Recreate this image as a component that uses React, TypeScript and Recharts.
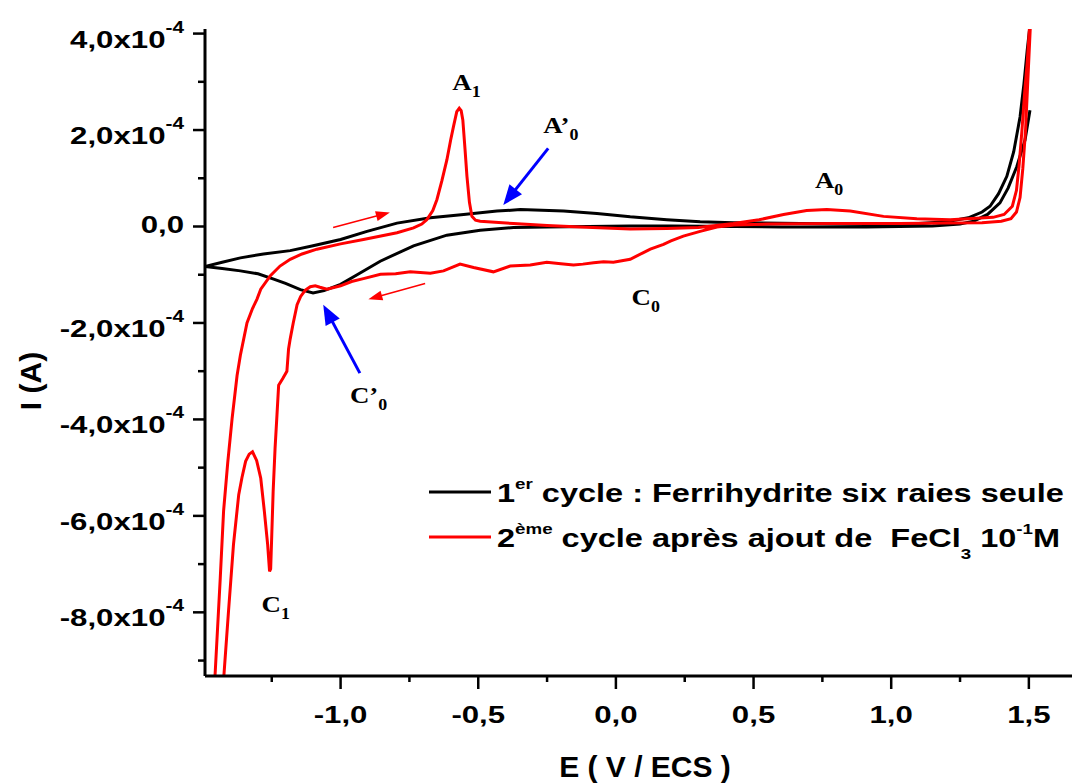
import { LineChart, Line, XAxis, YAxis, Legend, ReferenceLine, ReferenceDot } from 'recharts';

const W = 1072;
const H = 783;

// E in V/ECS, I in units of 1e-4 A

// 1st cycle (black): return branch from +1.5 V down to the left end
const cycle1Back: [number, number][] = [
  [1.504, 2.41], [1.486, 1.79], [1.456, 1.24], [1.425, 0.8], [1.395, 0.49], [1.35, 0.25],
  [1.3, 0.11], [1.25, 0.05], [1.15, 0.01], [0.91, -0.01], [0.6, -0.01], [0.43, 0.0],
  [0.2, 0.01], [0.05, 0.01], [-0.1, 0.0], [-0.25, -0.01], [-0.372, -0.02], [-0.493, -0.08],
  [-0.614, -0.18], [-0.735, -0.4], [-0.856, -0.72], [-0.94, -1.0], [-1.0, -1.2],
  [-1.06, -1.33], [-1.1, -1.38], [-1.146, -1.31], [-1.2, -1.18], [-1.243, -1.09],
  [-1.3, -0.98], [-1.364, -0.92], [-1.43, -0.87], [-1.494, -0.83],
];

// 1st cycle (black): forward branch up to +1.5 V
const cycle1Forward: [number, number][] = [
  [-1.43, -0.74], [-1.364, -0.65], [-1.28, -0.57], [-1.183, -0.5], [-1.1, -0.4],
  [-1.0, -0.27], [-0.904, -0.1], [-0.795, 0.07], [-0.674, 0.18], [-0.553, 0.25],
  [-0.432, 0.32], [-0.347, 0.35], [-0.19, 0.32], [-0.069, 0.27], [0.052, 0.2],
  [0.185, 0.14], [0.306, 0.1], [0.427, 0.08], [0.67, 0.06], [0.91, 0.05], [1.1, 0.06],
  [1.2, 0.1], [1.28, 0.18], [1.33, 0.3], [1.359, 0.42], [1.39, 0.68], [1.42, 1.04],
  [1.445, 1.55], [1.468, 2.27], [1.482, 2.95], [1.494, 3.65], [1.502, 4.06],
];

// 2nd cycle (red): cathodic branch, C0 ripples, C'0, C1, down past the axis
const cycle2Back: [number, number][] = [
  [1.505, 4.1], [1.496, 3.0], [1.488, 2.0], [1.478, 1.2], [1.468, 0.6], [1.455, 0.3],
  [1.435, 0.16], [1.4, 0.11], [1.33, 0.08], [1.2, 0.07], [1.03, 0.06], [0.8, 0.06],
  [0.55, 0.05], [0.43, 0.03], [0.367, -0.01], [0.306, -0.1], [0.245, -0.2], [0.2, -0.3],
  [0.173, -0.37], [0.125, -0.47], [0.1, -0.54], [0.052, -0.68], [-0.009, -0.74],
  [-0.045, -0.73], [-0.081, -0.75], [-0.12, -0.78], [-0.154, -0.8], [-0.2, -0.77],
  [-0.251, -0.74], [-0.311, -0.8], [-0.384, -0.82], [-0.445, -0.94], [-0.517, -0.85],
  [-0.566, -0.78], [-0.626, -0.92], [-0.674, -0.97], [-0.747, -0.94], [-0.8, -0.98],
  [-0.855, -0.99], [-0.917, -1.08], [-0.96, -1.14], [-1.0, -1.23], [-1.049, -1.3],
  [-1.075, -1.26], [-1.092, -1.23], [-1.11, -1.25], [-1.128, -1.32], [-1.145, -1.45],
  [-1.158, -1.62], [-1.172, -2.0], [-1.183, -2.33], [-1.189, -2.54], [-1.195, -3.0],
  [-1.21, -3.15], [-1.225, -3.29], [-1.231, -3.9], [-1.238, -4.6], [-1.245, -5.5],
  [-1.25, -6.4], [-1.254, -7.1], [-1.258, -7.15], [-1.265, -6.59], [-1.277, -5.9],
  [-1.29, -5.22], [-1.305, -4.85], [-1.32, -4.67], [-1.332, -4.72], [-1.345, -4.87],
  [-1.358, -5.2], [-1.37, -5.56], [-1.389, -6.59], [-1.407, -7.97], [-1.423, -9.24],
  [-1.45, -11.5], [-1.49, -14.0],
];

// 2nd cycle (red): anodic branch with A1 and A0
const cycle2Forward: [number, number][] = [
  [-1.478, -11.5], [-1.455, -9.2], [-1.437, -7.28], [-1.425, -5.9], [-1.41, -4.9],
  [-1.394, -3.98], [-1.376, -3.09], [-1.364, -2.67], [-1.34, -2.0], [-1.32, -1.7],
  [-1.304, -1.51], [-1.29, -1.3], [-1.255, -1.02], [-1.22, -0.82], [-1.183, -0.68],
  [-1.14, -0.57], [-1.086, -0.47], [-1.0, -0.36], [-0.917, -0.27], [-0.795, -0.13],
  [-0.735, -0.03], [-0.705, 0.05], [-0.687, 0.14], [-0.665, 0.33], [-0.65, 0.56],
  [-0.632, 0.95], [-0.614, 1.38], [-0.6, 1.8], [-0.59, 2.07], [-0.578, 2.38],
  [-0.569, 2.45], [-0.562, 2.4], [-0.556, 2.21], [-0.548, 1.6], [-0.541, 1.04],
  [-0.532, 0.5], [-0.523, 0.21], [-0.51, 0.13], [-0.493, 0.11], [-0.372, 0.06],
  [-0.25, 0.02], [-0.13, -0.01], [0.052, -0.05], [0.185, -0.04], [0.3, -0.02],
  [0.427, 0.06], [0.52, 0.14], [0.609, 0.25], [0.693, 0.33], [0.766, 0.35], [0.851, 0.32],
  [0.972, 0.21], [1.093, 0.16], [1.214, 0.14], [1.31, 0.17], [1.37, 0.19], [1.41, 0.25],
  [1.44, 0.42], [1.455, 0.75], [1.465, 1.3], [1.475, 2.0], [1.485, 2.8], [1.494, 3.4],
  [1.502, 4.1],
];

const xTicks = [-1.25, -1, -0.75, -0.5, -0.25, 0, 0.25, 0.5, 0.75, 1, 1.25, 1.5];
const yTicks = [-9, -8, -7, -6, -5, -4, -3, -2, -1, 0, 1, 2, 3, 4];

const peakLabels = [
  { name: 'A', sub: '1', e: -0.594, i: 2.82 },
  { name: 'A’', sub: '0', e: -0.264, i: 1.93 },
  { name: 'A', sub: '0', e: 0.723, i: 0.79 },
  { name: 'C', sub: '0', e: 0.057, i: -1.63 },
  { name: 'C’', sub: '0', e: -0.966, i: -3.66 },
  { name: 'C', sub: '1', e: -1.287, i: -7.99 },
];

// [from, to] in (E, I)
const peakArrows: [number, number, number, number][] = [
  [-0.246, 1.62, -0.409, 0.446],
  [-0.93, -3.04, -1.063, -1.62],
];
const scanArrows: [number, number, number, number][] = [
  [-1.027, -0.02, -0.821, 0.29],
  [-0.693, -1.18, -0.899, -1.51],
];

const toPoints = (pts: [number, number][]) => pts.map(([e, i]) => ({ e, i }));
const cycle1 = toPoints([...cycle1Back, ...cycle1Forward]);
const cycle2 = toPoints([...cycle2Back, ...cycle2Forward]);

const SANS = "'Liberation Sans', Arial, sans-serif";
const SERIF = "'Liberation Serif', 'Times New Roman', serif";

type Seg = { t: string; s?: 'sup' | 'sub' };

function rich(segs: Seg[], size: number, small: number, up: number, down: number) {
  let cur = 0;
  return segs.map((sg, k) => {
    const target = sg.s === 'sup' ? -up : sg.s === 'sub' ? down : 0;
    const dy = target - cur;
    cur = target;
    return (
      <tspan key={k} dy={dy} fontSize={sg.s ? small : size}>
        {sg.t}
      </tspan>
    );
  });
}

const fmt = (v: number) => v.toFixed(1).replace('.', ',');

function XTick(props: any) {
  const { x, y, payload } = props;
  const v = payload.value as number;
  const major = Math.abs(v * 2 - Math.round(v * 2)) < 1e-6;
  return (
    <g>
      <line x1={x} x2={x} y1={y} y2={y + (major ? 13 : 6)} stroke="#000" strokeWidth={2.5} />
      {major && (
        <g transform={`translate(${x},${y + 47}) scale(1.3,1)`}>
          <text textAnchor="middle" fontFamily={SANS} fontWeight="bold" fontSize={24} fill="#000">
            {fmt(v)}
          </text>
        </g>
      )}
    </g>
  );
}

function YTick(props: any) {
  const { x, y, payload } = props;
  const v = payload.value as number;
  const major = v % 2 === 0;
  const segs: Seg[] = v === 0 ? [{ t: '0,0' }] : [{ t: `${fmt(v)}x10` }, { t: '-4', s: 'sup' }];
  return (
    <g>
      <line x1={x - (major ? 12 : 7)} x2={x} y1={y} y2={y} stroke="#000" strokeWidth={2.5} />
      {major && (
        <g transform={`translate(${x - 21},${y + (v === 0 ? 6.5 : 14)}) scale(1.3,1)`}>
          <text textAnchor="end" fontFamily={SANS} fontWeight="bold" fontSize={24} fill="#000">
            {rich(segs, 24, 16, 15, 0)}
          </text>
        </g>
      )}
    </g>
  );
}

function arrowShape(head: number, width: number) {
  return (p: any) => {
    const { x1, y1, x2, y2, stroke, strokeWidth } = p;
    const len = Math.hypot(x2 - x1, y2 - y1) || 1;
    const ux = (x2 - x1) / len;
    const uy = (y2 - y1) / len;
    const bx = x2 - ux * head;
    const by = y2 - uy * head;
    const px = (-uy * width) / 2;
    const py = (ux * width) / 2;
    return (
      <g>
        <line x1={x1} y1={y1} x2={bx + ux} y2={by + uy} stroke={stroke} strokeWidth={strokeWidth} />
        <polygon points={`${x2},${y2} ${bx + px},${by + py} ${bx - px},${by - py}`} fill={stroke} />
      </g>
    );
  };
}

const legendLabels: Record<string, Seg[]> = {
  c1: [{ t: '1' }, { t: 'er', s: 'sup' }, { t: ' cycle : Ferrihydrite six raies seule' }],
  c2: [
    { t: '2' }, { t: 'ème', s: 'sup' }, { t: ' cycle après ajout de  FeCl' }, { t: '3', s: 'sub' },
    { t: ' 10' }, { t: '-1', s: 'sup' }, { t: 'M' },
  ],
};

function LegendContent(props: any) {
  const items = (props.payload || []) as any[];
  return (
    <svg width={680} height={95} style={{ display: 'block', overflow: 'visible' }}>
      {items.map((it, k) => {
        const y = 24 + k * 45;
        return (
          <g key={k}>
            <line x1={14} x2={76} y1={y} y2={y} stroke={it.color} strokeWidth={3} />
            <g transform={`translate(82,${y + 10}) scale(1.25,1)`}>
              <text fontFamily={SANS} fontWeight="bold" fontSize={26} fill="#000" style={{ whiteSpace: 'pre' }}>
                {rich(legendLabels[it.payload?.name ?? it.value] || [{ t: String(it.value) }], 26, 15, 13, 12)}
              </text>
            </g>
          </g>
        );
      })}
    </svg>
  );
}

export default function App() {
  return (
    <div style={{ position: 'absolute', left: 0, top: 0, width: W, height: H, background: '#fff' }}>
      <LineChart width={W} height={H} margin={{ top: 29, right: 0, bottom: 0, left: 0 }}>
        <XAxis
          type="number"
          dataKey="e"
          domain={[-1.4925, 1.6567]}
          allowDataOverflow
          ticks={xTicks}
          interval={0}
          tickSize={0}
          tickMargin={0}
          tickLine={false}
          tick={<XTick />}
          height={107}
          axisLine={{ stroke: '#000', strokeWidth: 3 }}
          label={{
            content: (p: any) => (
              <text
                x={p.viewBox.x + 440}
                y={p.viewBox.y + 100.5}
                textAnchor="middle"
                fontFamily={SANS}
                fontWeight="bold"
                fontSize={30}
                fill="#000"
              >
                E ( V / ECS )
              </text>
            ),
          }}
        />
        <YAxis
          type="number"
          dataKey="i"
          domain={[-9.32, 4.095]}
          allowDataOverflow
          ticks={yTicks}
          interval={0}
          tickSize={0}
          tickMargin={0}
          tickLine={false}
          tick={<YTick />}
          width={205}
          axisLine={{ stroke: '#000', strokeWidth: 3 }}
          label={{
            content: (p: any) => (
              <text
                transform={`translate(41,${p.viewBox.y + 352}) rotate(-90)`}
                textAnchor="middle"
                fontFamily={SANS}
                fontWeight="bold"
                fontSize={30}
                fill="#000"
              >
                I (A)
              </text>
            ),
          }}
        />
        <Legend
          layout="horizontal"
          verticalAlign="middle"
          align="center"
          width={660}
          height={95}
          wrapperStyle={{ left: 415, top: 468, width: 660, height: 95 }}
          content={<LegendContent />}
        />
        <Line
          name="c1"
          data={cycle1}
          dataKey="i"
          type="linear"
          stroke="#000"
          strokeWidth={3}
          dot={false}
          activeDot={false}
          isAnimationActive={false}
        />
        <Line
          name="c2"
          data={cycle2}
          dataKey="i"
          type="linear"
          stroke="#ff0000"
          strokeWidth={3}
          dot={false}
          activeDot={false}
          isAnimationActive={false}
        />
        {scanArrows.map(([e1, i1, e2, i2], k) => (
          <ReferenceLine
            key={`s${k}`}
            segment={[{ x: e1, y: i1 }, { x: e2, y: i2 }]}
            stroke="#ff0000"
            strokeWidth={1.5}
            shape={arrowShape(14, 10)}
          />
        ))}
        {peakArrows.map(([e1, i1, e2, i2], k) => (
          <ReferenceLine
            key={`p${k}`}
            segment={[{ x: e1, y: i1 }, { x: e2, y: i2 }]}
            stroke="#0000ff"
            strokeWidth={3}
            shape={arrowShape(20, 16)}
          />
        ))}
        {peakLabels.map((l, k) => (
          <ReferenceDot
            key={`l${k}`}
            x={l.e}
            y={l.i}
            r={0}
            shape={(p: any) => (
              <g transform={`translate(${p.cx},${p.cy}) scale(1.12,1)`}>
                <text fontFamily={SERIF} fontWeight="bold" fontSize={24} fill="#000">
                  {l.name}
                  <tspan dy={7} fontSize={16}>
                    {l.sub}
                  </tspan>
                </text>
              </g>
            )}
          />
        ))}
      </LineChart>
    </div>
  );
}
